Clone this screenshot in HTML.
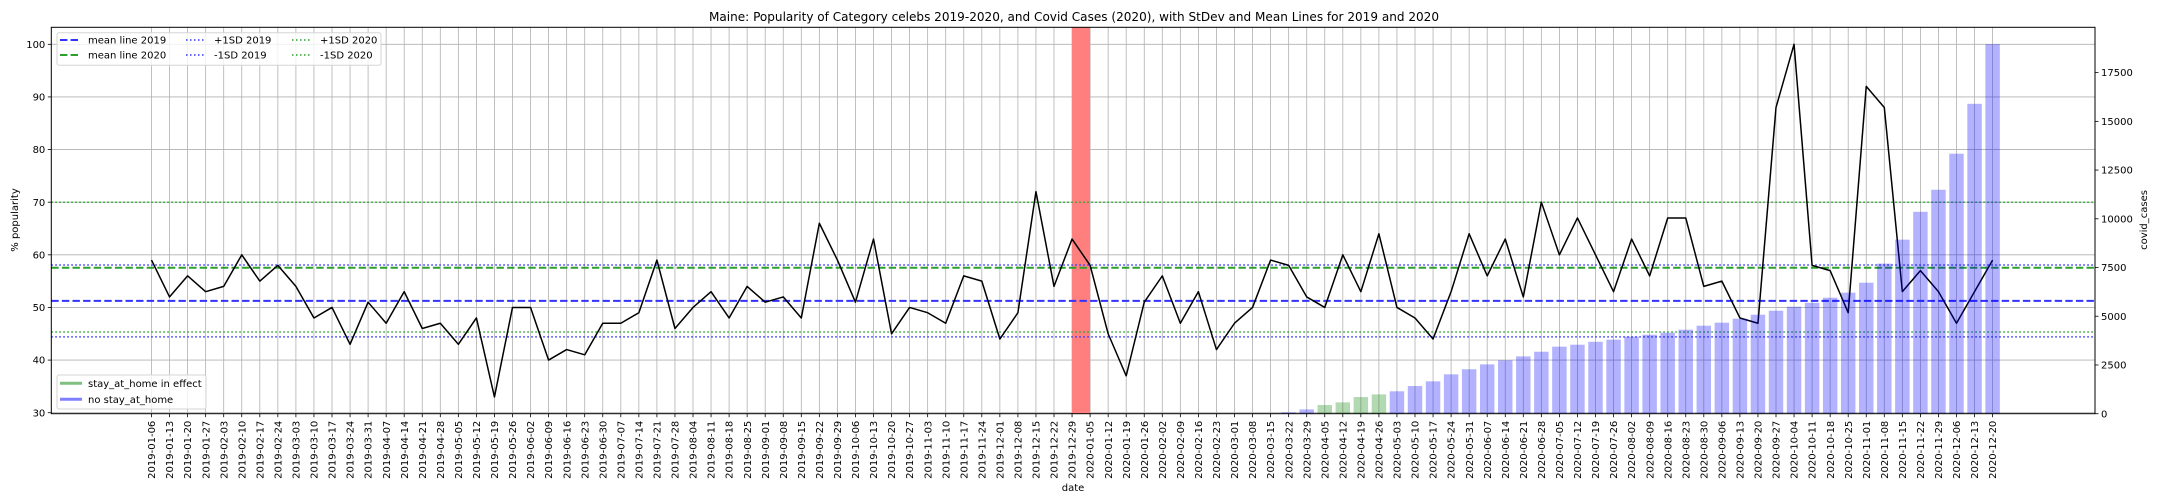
<!DOCTYPE html>
<html><head><meta charset="utf-8">
<style>
html,body{margin:0;padding:0;background:#fff;}
svg{display:block;font-family:"DejaVu Sans","Liberation Sans",sans-serif;}
</style></head>
<body>
<svg id="chart" width="2160" height="504" viewBox="0 0 2160 504" xmlns="http://www.w3.org/2000/svg">
<rect x="0" y="0" width="2160" height="504" fill="#fff"/>
<text x="1074" y="21" text-anchor="middle" font-size="12" textLength="730" lengthAdjust="spacingAndGlyphs">Maine: Popularity of Category celebs 2019-2020, and Covid Cases (2020), with StDev and Mean Lines for 2019 and 2020</text>
<g id="grid"></g>
<g id="span"></g>
<g id="hlines"></g>
<g id="line"></g>
<g id="bars"></g>
<g id="axes"></g>
<g id="legend1">
<rect x="57" y="32.7" width="324" height="32.5" rx="2" fill="#fff" fill-opacity="0.8" stroke="#d6d6d6"/>
<line x1="60" y1="40" x2="80" y2="40" stroke="#3333ff" stroke-width="2" stroke-dasharray="7.4,3.2"/>
<text x="88" y="43.6" font-size="10">mean line 2019</text>
<line x1="60" y1="55" x2="80" y2="55" stroke="#2ca02c" stroke-width="2" stroke-dasharray="7.4,3.2"/>
<text x="88" y="58.6" font-size="10">mean line 2020</text>
<line x1="186" y1="40" x2="206" y2="40" stroke="#3333ff" stroke-width="1.5" stroke-dasharray="1.5,2.5"/>
<text x="214" y="43.6" font-size="10">+1SD 2019</text>
<line x1="186" y1="55" x2="206" y2="55" stroke="#3333ff" stroke-width="1.5" stroke-dasharray="1.5,2.5"/>
<text x="214" y="58.6" font-size="10">-1SD 2019</text>
<line x1="292" y1="40" x2="312" y2="40" stroke="#2ca02c" stroke-width="1.5" stroke-dasharray="1.5,2.5"/>
<text x="320" y="43.6" font-size="10">+1SD 2020</text>
<line x1="292" y1="55" x2="312" y2="55" stroke="#2ca02c" stroke-width="1.5" stroke-dasharray="1.5,2.5"/>
<text x="320" y="58.6" font-size="10">-1SD 2020</text>
</g>
<g id="legend2">
<rect x="57" y="375" width="149" height="34" rx="2" fill="#fff" fill-opacity="0.8" stroke="#d6d6d6"/>
<line x1="60" y1="383.3" x2="82" y2="383.3" stroke="#7fbf7f" stroke-width="3"/>
<text x="88" y="386.9" font-size="10">stay_at_home in effect</text>
<line x1="60" y1="399.3" x2="82" y2="399.3" stroke="#8080ff" stroke-width="3"/>
<text x="88" y="402.9" font-size="10">no stay_at_home</text>
</g>
<text x="0" y="0" transform="translate(18,220) rotate(-90)" text-anchor="middle" font-size="10">% popularity</text>
<text x="0" y="0" transform="translate(2147,220) rotate(-90)" text-anchor="middle" font-size="10">covid_cases</text>
<text x="1073" y="491" text-anchor="middle" font-size="10">date</text>
</svg>
<script>
const popularity = [59,52,56,53,54,60,55,58,54,48,50,43,51,47,53,46,47,43,48,33,50,50,40,42,41,47,47,
49,59,46,50,53,48,54,51,52,48,66,59,51,63,45,50,49,47,56,55,44,49,72,54,63,
58,45,37,51,56,47,53,42,47,50,59,58,52,50,60,53,64,50,48,44,53,64,56,63,52,
70,60,67,60,53,63,56,67,67,54,55,48,47,88,100,58,57,49,92,88,53,57,53,47,53,59];
const covidStartIndex = 63;
const covidCases = [68,220,445,580,855,990,1150,1420,1660,2020,2280,2530,2740,2940,3180,3440,3540,3690,3800,3950,4050,4155,4310,4515,4670,4875,5080,5285,5490,5690,5950,6210,6720,7700,8930,10360,11490,13340,15900,18960];
const stayAtHome = [65,66,67,68];
const refLines = [
 {name:'mean-line-2019', v:51.25, color:'#3333ff', dash:'7.4,3.2', w:2},
 {name:'mean-line-2020', v:57.55, color:'#2ca02c', dash:'7.4,3.2', w:2},
 {name:'plus-1sd-2019', v:58.07, color:'#3333ff', dash:'1.5,2.5', w:1.5},
 {name:'minus-1sd-2019', v:44.4, color:'#3333ff', dash:'1.5,2.5', w:1.5},
 {name:'plus-1sd-2020', v:70.0, color:'#2ca02c', dash:'1.5,2.5', w:1.5},
 {name:'minus-1sd-2020', v:45.33, color:'#2ca02c', dash:'1.5,2.5', w:1.5}];
const spanIndex = 51;
const leftTicks = [30,40,50,60,70,80,90,100];
const rightTicks = [0,2500,5000,7500,10000,12500,15000,17500];

const NS='http://www.w3.org/2000/svg';
const X0=51.3,X1=2095,Y0=27.3,Y1=413.7;
const startDate = Date.UTC(2019,0,6);
function xS(i){return 151.5+i*18.05;}
function yL(v){return 44.3+(100-v)*5.263;}
function yR(c){return 413.7-c*0.01949;}
function mk(tag,attrs,parent){const e=document.createElementNS(NS,tag);for(const k in attrs)e.setAttribute(k,attrs[k]);parent.appendChild(e);return e;}
function dateLabel(i){const d=new Date(startDate+i*7*86400000);return d.toISOString().slice(0,10);}

const grid=document.getElementById('grid');
for(let i=0;i<popularity.length;i++){
 const g=mk('line',{x1:xS(i),x2:xS(i),y1:Y0,y2:Y1,stroke:'#b0b0b0','stroke-width':0.8},grid);
 
 
}
leftTicks.forEach(v=>{
 const g=mk('line',{x1:X0,x2:X1,y1:yL(v),y2:yL(v),stroke:'#b0b0b0','stroke-width':0.8},grid);
 
 
});
const span=document.getElementById('span');
const sp=mk('rect',{x:xS(spanIndex),y:Y0,width:xS(spanIndex+1)-xS(spanIndex),height:Y1-Y0,fill:'#ff7f7f'},span);



const hl=document.getElementById('hlines');
refLines.forEach(r=>{
 const l=mk('line',{x1:X0,x2:X1,y1:yL(r.v),y2:yL(r.v),stroke:r.color,'stroke-width':r.w,'stroke-dasharray':r.dash},hl);
 
 
});

const lg=document.getElementById('line');
const pl=mk('polyline',{points:popularity.map((v,i)=>xS(i)+','+yL(v)).join(' '),fill:'none',stroke:'#000','stroke-width':1.5,'stroke-linejoin':'round'},lg);



const bg=document.getElementById('bars');
const bw=18.05*0.8;
covidCases.forEach((c,k)=>{
 const i=covidStartIndex+k;
 if(c<=0)return;
 const green=stayAtHome.indexOf(i)>=0;
 const b=mk('rect',{x:xS(i)-bw/2,y:yR(c),width:bw,height:Y1-yR(c),fill:green?'#008000':'#0000ff','fill-opacity':0.3},bg);
 
 
});

const ax=document.getElementById('axes');
const fr=mk('rect',{x:X0,y:Y0,width:X1-X0,height:Y1-Y0,fill:'none',stroke:'#000','stroke-width':1},ax);


leftTicks.forEach(v=>{
 const t=mk('line',{x1:X0-3.5,x2:X0,y1:yL(v),y2:yL(v),stroke:'#000','stroke-width':0.8},ax);
 
 
 const tx=mk('text',{x:X0-6,y:yL(v)+3.6,'text-anchor':'end','font-size':10},ax);
 tx.textContent=String(v);
 
 
});
rightTicks.forEach(v=>{
 const t=mk('line',{x1:X1,x2:X1+3.5,y1:yR(v),y2:yR(v),stroke:'#000','stroke-width':0.8},ax);
 
 
 const tx=mk('text',{x:X1+6,y:yR(v)+3.6,'font-size':10},ax);
 tx.textContent=String(v);
 
 
});
for(let i=0;i<popularity.length;i++){
 const t=mk('line',{x1:xS(i),x2:xS(i),y1:Y1,y2:Y1+3.5,stroke:'#000','stroke-width':0.8},ax);
 
 
 const tx=mk('text',{x:0,y:0,transform:'translate('+(xS(i)+3.6)+','+(Y1+7)+') rotate(-90)','text-anchor':'end','font-size':10},ax);
 tx.textContent=dateLabel(i);
 
 
}
</script>
</body></html>
